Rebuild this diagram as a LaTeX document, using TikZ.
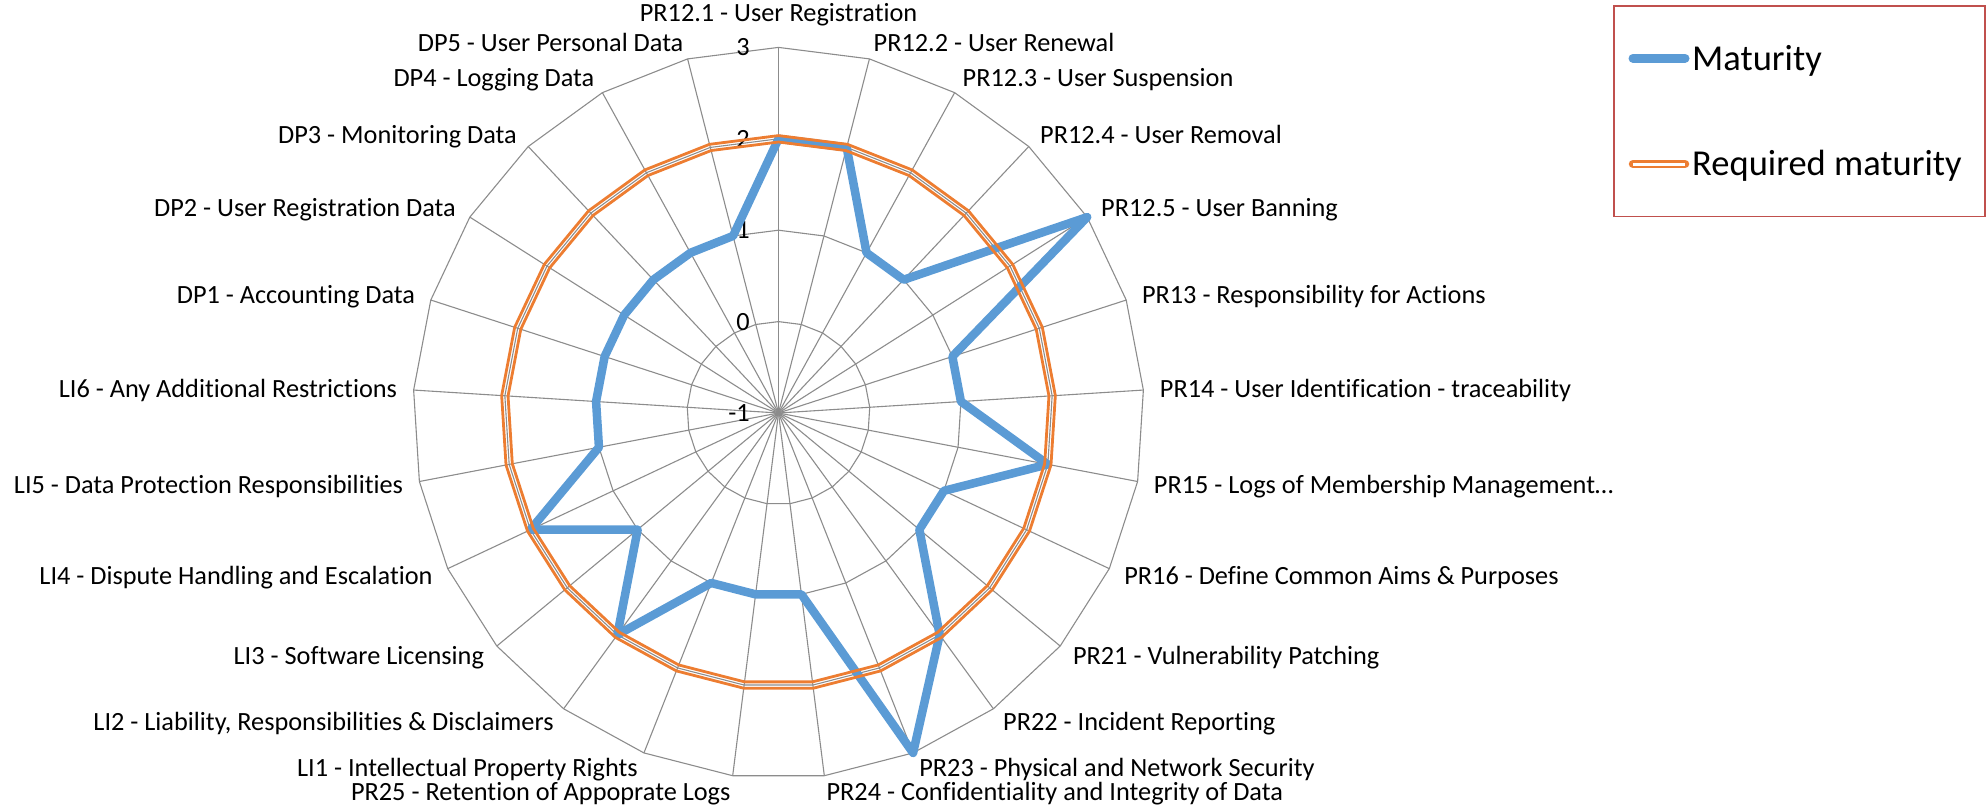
\documentclass[tikz,border=0pt]{standalone}
\usepackage{fontspec}
\setmainfont{Carlito}[Ligatures={NoCommon}]
\definecolor{blueS}{HTML}{5B9BD5}
\definecolor{orangeS}{HTML}{ED7D31}
\definecolor{gridc}{HTML}{8C8C8C}
\definecolor{legc}{HTML}{C0504D}
\begin{document}
\begin{tikzpicture}[x=1pt,y=1pt,
  gridline/.style={draw=gridc,line width=1.1pt},
  catlabel/.style={font=\fontsize{26.3}{30}\selectfont, inner sep=0pt, text height=17pt, text depth=0pt},
  ticklabel/.style={font=\fontsize{26.3}{30}\selectfont, inner sep=0pt, anchor=east, text height=17pt, text depth=0pt},
  maturity/.style={draw=blueS, line width=8.5pt, line join=round},
  reqline/.style={draw=orangeS, line width=2.8pt, line join=miter},
  legtext/.style={font=\fontsize{36.5}{40}\selectfont, inner sep=0pt, anchor=base west}
]
\useasboundingbox (0,0) rectangle (1986,-809);
\begin{scope}[shift={(778.5,-413)}]
\coordinate (O) at (0,0);
% rings
\foreach \v in {1,2,3,4} {
  \draw[gridline] (90:\v*91.4) \foreach \i in {1,...,24} { -- ({90-\i*14.4}:\v*91.4) } -- cycle;
}
% spokes
\foreach \i in {0,...,24} {
  \coordinate (s\i) at ({90-\i*14.4}:365.6);
  \draw[gridline] (O) -- (s\i);
}
% tick labels
\foreach \v/\t in {0/-1,1/0,2/1,3/2,4/3} {
  \node[ticklabel] (tick\v) at (-28.5,\v*91.4) {\t};
}
% maturity series
\foreach \v [count=\i from 0] in {2,2,1,1,3,1,1,2,1,1,2,3,1,1,1,2,1,2,1,1,1,1,1,1,1} {
  \coordinate (m\i) at ({90-\i*14.4}:{(\v+1)*91.4});
}
\draw[maturity] (m0) \foreach \i in {1,...,24} { -- (m\i) } -- cycle;
% required maturity (double line, transparent core)
\foreach \r in {271.0,277.4} {
  \draw[reqline] (90:\r) \foreach \i in {1,...,24} { -- ({90-\i*14.4}:\r) } -- cycle;
}
% category labels
\node[catlabel, anchor=base] (c0) at (0,391.3) {PR12.1 - User Registration};
\foreach \i/\t in {1/{PR12.2 - User Renewal},2/{PR12.3 - User Suspension},3/{PR12.4 - User Removal},4/{PR12.5 - User Banning},5/{PR13 - Responsibility for Actions},6/{PR14 - User Identification - traceability},7/{PR15 - Logs of Membership Management…},8/{PR16 - Define Common Aims \& Purposes},9/{PR21 - Vulnerability Patching},10/{PR22 - Incident Reporting},11/{PR23 - Physical and Network Security},12/{PR24 - Confidentiality and Integrity of Data}} {
  \node[catlabel, anchor=west] (c\i) at ({90-\i*14.4}:382) {\t};
}
\foreach \i/\t in {13/{PR25 - Retention of Appoprate Logs},14/{LI1 - Intellectual Property Rights},15/{LI2 - Liability, Responsibilities \& Disclaimers},16/{LI3 - Software Licensing},17/{LI4 - Dispute Handling and Escalation},18/{LI5 - Data Protection Responsibilities},19/{LI6 - Any Additional Restrictions},20/{DP1 - Accounting Data},21/{DP2 - User Registration Data},22/{DP3 - Monitoring Data},23/{DP4 - Logging Data},24/{DP5 - User Personal Data}} {
  \node[catlabel, anchor=east] (c\i) at ({90-\i*14.4}:382) {\t};
}
\end{scope}
% legend
\draw[legc, line width=1.5pt] (1614,-6) rectangle (1985,-216.7);
\coordinate (lb1) at (1633,-58.3);
\coordinate (lb2) at (1685,-58.3);
\draw[blueS, line width=9pt, line cap=round] (lb1) -- (lb2);
\node[legtext] (leg1) at (1692,-70) {Maturity};
\coordinate (lo1) at (1633,-164);
\coordinate (lo2) at (1685,-164);
\draw[orangeS, line width=8.5pt, line cap=round] (lo1) -- (lo2);
\draw[white, line width=3pt] (lo1) -- (lo2);
\node[legtext] (leg2) at (1692,-175) {Required maturity};
\end{tikzpicture}
\end{document}
